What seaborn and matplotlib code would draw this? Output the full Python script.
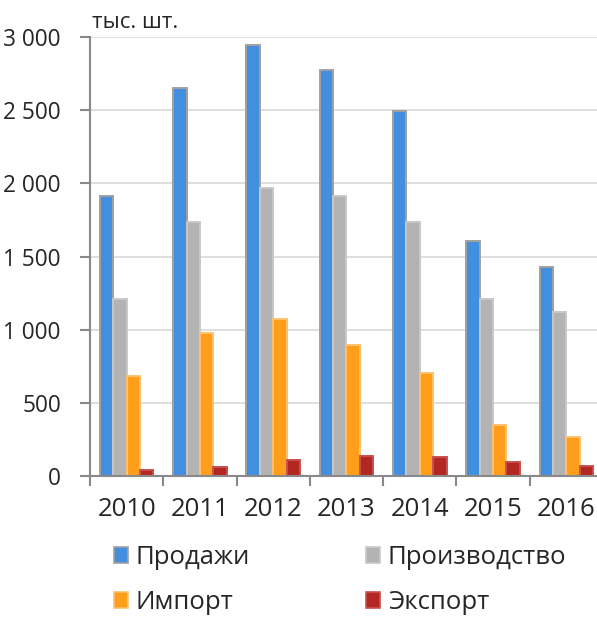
import pandas as pd
import matplotlib.pyplot as plt
import seaborn as sns
from matplotlib.ticker import FuncFormatter, FixedLocator

# Данные (тыс. шт.)
years = ['2010', '2011', '2012', '2013', '2014', '2015', '2016']
series = ['Продажи', 'Производство', 'Импорт', 'Экспорт']
sales = [1915, 2654, 2948, 2777, 2497, 1603, 1425]
production = [1209, 1735, 1970, 1915, 1735, 1211, 1120]
imports = [684, 980, 1074, 894, 702, 347, 265]
exports = [39, 62, 112, 135, 128, 96, 66]
colors = ['#418FDE', '#B3B3B3', '#FF9E1B', '#B22722']
edges = ['#A0A0A0', '#C8C8C8', '#FFC070', '#C85050']

df = pd.DataFrame({
    'Год': years * 4,
    'Серия': sum([[s] * len(years) for s in series], []),
    'Значение': sales + production + imports + exports,
})

sns.set_style('white')
plt.rcParams['font.family'] = ['Open Sans', 'DejaVu Sans']

fig = plt.figure(figsize=(5.97, 6.17), dpi=100)
ax = fig.add_axes([90 / 597, 1 - 476 / 617, 513 / 597, 439 / 617])

sns.barplot(data=df, x='Год', y='Значение', hue='Серия', hue_order=series,
            palette=colors, width=0.73, gap=0, ax=ax, legend=False,
            linewidth=1.4, saturation=1)

# обводка столбцов
for cont, ec in zip(ax.containers, edges):
    for p in cont:
        p.set_edgecolor(ec)

ax.set_ylim(0, 3000)
ax.set_xlim(-0.5, len(years) - 0.5)
ax.set_yticks(range(0, 3001, 500))
ax.yaxis.set_major_formatter(FuncFormatter(lambda v, _: f'{int(v):,}'.replace(',', ' ')))
ax.grid(axis='y', color='#D9D9D9', linewidth=1.2)
ax.set_axisbelow(True)
ax.set_xlabel('')
ax.set_ylabel('')

for s in ['top', 'right']:
    ax.spines[s].set_visible(False)
for s in ['left', 'bottom']:
    ax.spines[s].set_color('#898989')
    ax.spines[s].set_linewidth(1.5)

# деления оси X на границах категорий
ax.xaxis.set_minor_locator(FixedLocator([i - 0.5 for i in range(len(years) + 1)]))
ax.tick_params(axis='x', which='minor', length=7, width=1.5, color='#898989', bottom=True)
ax.tick_params(axis='x', which='major', length=0, pad=15, labelsize=18.5)
ax.tick_params(axis='y', length=7, width=1.5, color='#898989', left=True, pad=14, labelsize=16.3)

fig.text(92 / 597, 1 - 22 / 617, 'тыс. шт.', fontsize=16, va='center', ha='left')

# легенда
handles = [plt.Rectangle((0, 0), 1, 1, facecolor=c, edgecolor=e, linewidth=1.2)
           for c, e in zip(colors, edges)]
order = [0, 2, 1, 3]
fig.legend([handles[i] for i in order], [series[i] for i in order],
           ncol=2, loc='upper left', bbox_to_anchor=(114 / 597, 1 - 545 / 617),
           frameon=False, fontsize=18.5, handlelength=0.55, handleheight=0.55,
           handletextpad=0.3, columnspacing=4.5, labelspacing=0.78,
           borderaxespad=0, borderpad=0)

fig.savefig('out.png', dpi=100)
